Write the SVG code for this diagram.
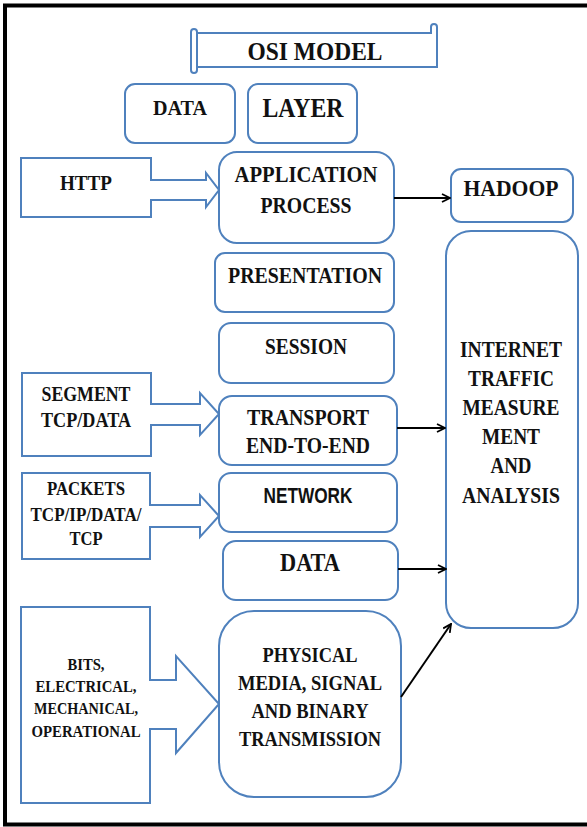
<svg xmlns="http://www.w3.org/2000/svg" width="587" height="827" viewBox="0 0 587 827">
<style>
.b{fill:#fff;stroke:#4f81bd;stroke-width:2}
.t{font-family:"Liberation Serif","Times New Roman",serif;font-weight:bold;text-anchor:middle;fill:#111}
.s{font-family:"Liberation Sans",Arial,sans-serif;font-weight:bold;text-anchor:middle;fill:#111}
.c{stroke:#000;stroke-width:2;fill:none;marker-end:url(#ah)}
</style>
<defs>
<marker id="ah" viewBox="0 0 10 10" refX="9" refY="5" markerWidth="5" markerHeight="5" orient="auto" markerUnits="strokeWidth">
<path d="M1,1 L9,5 L1,9" fill="none" stroke="#000" stroke-width="1.8"/>
</marker>
</defs>
<rect x="0" y="0" width="587" height="827" fill="#fff"/>
<rect x="5" y="5.5" width="600" height="819" fill="none" stroke="#000" stroke-width="4"/>

<g id="title">
<path class="b" d="M196,33 H431 V27 A3,3 0 0 1 437,27 V67 H196 Z"/>
<rect class="b" x="191" y="29" width="6" height="44" rx="3"/>
<text class="t" x="315" y="60" font-size="26" textLength="135" lengthAdjust="spacingAndGlyphs">OSI MODEL</text>
</g>
<g id="data-header">
<rect class="b" x="125" y="84" width="110" height="59" rx="10"/>
<text class="t" x="180" y="115" font-size="22" textLength="54" lengthAdjust="spacingAndGlyphs">DATA</text>
</g>
<g id="layer-header">
<rect class="b" x="248" y="84" width="109" height="59" rx="10"/>
<text class="t" x="303" y="117" font-size="28" textLength="81" lengthAdjust="spacingAndGlyphs">LAYER</text>
</g>

<g id="http">
<path class="b" d="M21,158 H151 V180 H206 V173 L219,190 L206,207 V200 H151 V217 H21 Z"/>
<text class="t" x="86" y="190" font-size="22" textLength="52" lengthAdjust="spacingAndGlyphs">HTTP</text>
</g>
<g id="segment">
<path class="b" d="M22,373 H151 V404 H200 V393 L219,414 L200,435 V425 H151 V456 H22 Z"/>
<text class="t" x="86" y="401" font-size="21" textLength="89" lengthAdjust="spacingAndGlyphs">SEGMENT</text>
<text class="t" x="86" y="427" font-size="21" textLength="90" lengthAdjust="spacingAndGlyphs">TCP/DATA</text>
</g>
<g id="packets">
<path class="b" d="M22,473 H150 V505 H200 V495 L219,516 L200,537 V527 H150 V559 H22 Z"/>
<text class="t" x="86" y="495" font-size="19" textLength="78" lengthAdjust="spacingAndGlyphs">PACKETS</text>
<text class="t" x="86" y="521" font-size="19" textLength="111" lengthAdjust="spacingAndGlyphs">TCP/IP/DATA/</text>
<text class="t" x="86" y="545" font-size="19" textLength="33" lengthAdjust="spacingAndGlyphs">TCP</text>
</g>
<g id="bits">
<path class="b" d="M21,607 H150 V680 H176 V656 L219,704 L176,753 V729 H150 V803 H21 Z"/>
<text class="t" x="86" y="670" font-size="17" textLength="37" lengthAdjust="spacingAndGlyphs">BITS,</text>
<text class="t" x="86" y="692" font-size="17" textLength="101" lengthAdjust="spacingAndGlyphs">ELECTRICAL,</text>
<text class="t" x="86" y="714" font-size="17" textLength="104" lengthAdjust="spacingAndGlyphs">MECHANICAL,</text>
<text class="t" x="86" y="737" font-size="17" textLength="109" lengthAdjust="spacingAndGlyphs">OPERATIONAL</text>
</g>

<g id="application">
<rect class="b" x="219" y="152" width="175" height="91" rx="18"/>
<text class="t" x="306" y="182" font-size="23" textLength="143" lengthAdjust="spacingAndGlyphs">APPLICATION</text>
<text class="t" x="306" y="213" font-size="23" textLength="91" lengthAdjust="spacingAndGlyphs">PROCESS</text>
</g>
<g id="presentation">
<rect class="b" x="215" y="253" width="179" height="59" rx="10"/>
<text class="t" x="305" y="283" font-size="23" textLength="154" lengthAdjust="spacingAndGlyphs">PRESENTATION</text>
</g>
<g id="session">
<rect class="b" x="219" y="323" width="175" height="60" rx="12"/>
<text class="t" x="306" y="354" font-size="23" textLength="82" lengthAdjust="spacingAndGlyphs">SESSION</text>
</g>
<g id="transport">
<rect class="b" x="219" y="396" width="178" height="69" rx="13"/>
<text class="t" x="308" y="425" font-size="23" textLength="122" lengthAdjust="spacingAndGlyphs">TRANSPORT</text>
<text class="t" x="308" y="453" font-size="23" textLength="124" lengthAdjust="spacingAndGlyphs">END-TO-END</text>
</g>
<g id="network">
<rect class="b" x="219" y="473" width="178" height="59" rx="12"/>
<text class="s" x="308" y="503" font-size="22" textLength="89" lengthAdjust="spacingAndGlyphs">NETWORK</text>
</g>
<g id="data-link">
<rect class="b" x="223" y="541" width="175" height="59" rx="13"/>
<text class="t" x="310" y="571" font-size="26" textLength="60" lengthAdjust="spacingAndGlyphs">DATA</text>
</g>
<g id="physical">
<rect class="b" x="219" y="611" width="182" height="186" rx="35"/>
<text class="t" x="310" y="662" font-size="22" textLength="95" lengthAdjust="spacingAndGlyphs">PHYSICAL</text>
<text class="t" x="310" y="690" font-size="22" textLength="144" lengthAdjust="spacingAndGlyphs">MEDIA, SIGNAL</text>
<text class="t" x="310" y="718" font-size="22" textLength="117" lengthAdjust="spacingAndGlyphs">AND BINARY</text>
<text class="t" x="310" y="746" font-size="22" textLength="142" lengthAdjust="spacingAndGlyphs">TRANSMISSION</text>
</g>

<g id="hadoop">
<rect class="b" x="451" y="169" width="122" height="53" rx="10"/>
<text class="t" x="511" y="196" font-size="23" textLength="95" lengthAdjust="spacingAndGlyphs">HADOOP</text>
</g>
<g id="internet">
<rect class="b" x="446" y="231" width="132" height="397" rx="25"/>
<text class="t" x="511" y="357" font-size="23" textLength="102" lengthAdjust="spacingAndGlyphs">INTERNET</text>
<text class="t" x="511" y="386" font-size="23" textLength="86" lengthAdjust="spacingAndGlyphs">TRAFFIC</text>
<text class="t" x="511" y="415" font-size="23" textLength="97" lengthAdjust="spacingAndGlyphs">MEASURE</text>
<text class="t" x="511" y="444" font-size="23" textLength="58" lengthAdjust="spacingAndGlyphs">MENT</text>
<text class="t" x="511" y="473" font-size="23" textLength="41" lengthAdjust="spacingAndGlyphs">AND</text>
<text class="t" x="511" y="503" font-size="23" textLength="98" lengthAdjust="spacingAndGlyphs">ANALYSIS</text>
</g>

<g id="connectors">
<line class="c" x1="394" y1="198" x2="450" y2="198"/>
<line class="c" x1="397" y1="428" x2="445" y2="428"/>
<line class="c" x1="398" y1="569" x2="446" y2="569"/>
<line class="c" x1="401" y1="697" x2="451" y2="624"/>
</g>
</svg>
